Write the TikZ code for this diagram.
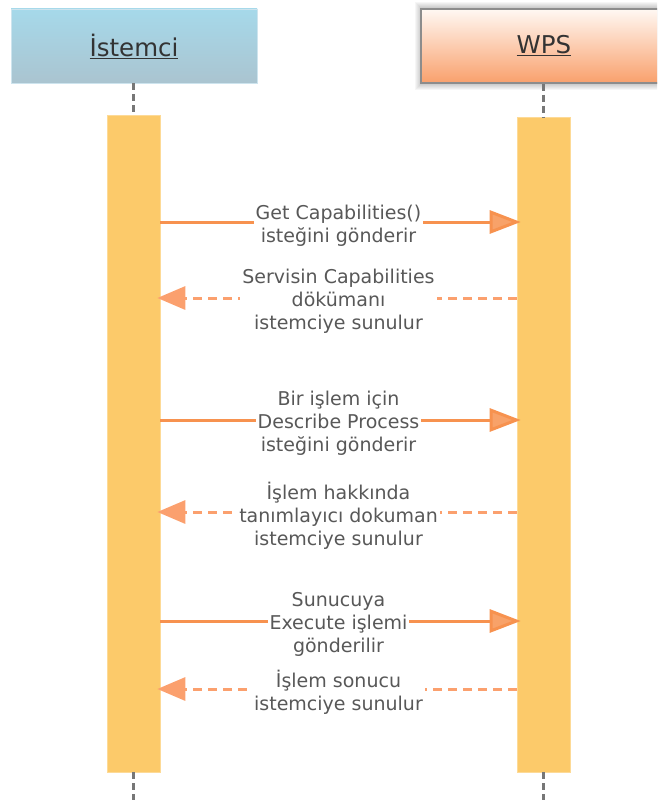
\documentclass[tikz,border=0pt]{standalone}
\usepackage{fontspec}
\setmainfont{DejaVu Sans}
\usetikzlibrary{arrows.meta}
\definecolor{barfill}{HTML}{FCCA6A}
\definecolor{callcol}{HTML}{F7924F}
\definecolor{replycol}{HTML}{FBA06E}
\definecolor{lifecol}{HTML}{777777}
\definecolor{txtcol}{HTML}{585858}
\begin{document}
\begin{tikzpicture}[x=1pt,y=-1pt,
  head/.style={rectangle, minimum width=246pt, minimum height=74pt, inner sep=0pt,
    font=\fontsize{24.5}{29}\selectfont, text=black!80},
  actbar/.style={rectangle, fill=barfill, draw=barfill!70!white, line width=0.6pt,
    minimum width=53pt, inner sep=0pt},
  life/.style={draw=lifecol, line width=3pt, dash pattern=on 7pt off 4pt},
  call/.style={draw=callcol, line width=3pt, -{Triangle[length=31pt,width=23pt,fill=callcol!85!white]}, shorten >=-4pt},
  reply/.style={draw=replycol, line width=3pt, dash pattern=on 9pt off 6pt,
    -{Triangle[length=28pt,width=23pt,fill=replycol]}, shorten >=-3pt},
  lbl/.style={fill=white, inner sep=2pt, align=center, text=txtcol, yshift=-3.5pt,
    font=\fontsize{19}{23}\selectfont}]
\useasboundingbox (0,0) rectangle (657,800);
\clip (0,0) rectangle (657,800);

% soft shadow behind the server header
\foreach \s in {1,...,7}
  \fill[black, opacity=0.035] (422-\s,9-\s) rectangle (667+\s,83+\s);

% participant headers
\node[head, top color={rgb,255:red,166;green,217;blue,234},
      bottom color={rgb,255:red,170;green,196;blue,208},
      draw={rgb,255:red,205;green,228;blue,238}, line width=0.8pt]
      (chead) at (134,46) {\underline{İstemci}};
\node[head, top color={rgb,255:red,255;green,248;blue,243},
      bottom color={rgb,255:red,249;green,160;blue,108},
      draw=black!45, line width=1.2pt]
      (whead) at (544,46) {\underline{WPS}};

% activation bars
\node[actbar, minimum height=657pt] (cbar) at (133.5,443.5) {};
\node[actbar, minimum height=655pt] (wbar) at (543.5,444.5) {};

% lifelines
\coordinate (cend) at (133.5,800);
\coordinate (wend) at (543.5,800);
\draw[life] (chead.south -| cbar.north) -- (cbar.north);
\draw[life] (whead.south -| wbar.north) -- (wbar.north);
\draw[life] (cbar.south) -- (cend);
\draw[life] (wbar.south) -- (wend);

% message rows
\coordinate (m1) at (0,222);
\coordinate (m2) at (0,298);
\coordinate (m3) at (0,420);
\coordinate (m4) at (0,512);
\coordinate (m5) at (0,621);
\coordinate (m6) at (0,689);

\draw[call] (cbar.east |- m1) -- node[lbl] {Get Capabilities()\\isteğini gönderir} (wbar.west |- m1);
\draw[reply] (wbar.west |- m2) -- node[lbl] {Servisin Capabilities\\dökümanı\\istemciye sunulur} (cbar.east |- m2);
\draw[call] (cbar.east |- m3) -- node[lbl] {Bir işlem için\\Describe Process\\isteğini gönderir} (wbar.west |- m3);
\draw[reply] (wbar.west |- m4) -- node[lbl] {İşlem hakkında\\tanımlayıcı dokuman\\istemciye sunulur} (cbar.east |- m4);
\draw[call] (cbar.east |- m5) -- node[lbl] {Sunucuya\\Execute işlemi\\gönderilir} (wbar.west |- m5);
\draw[reply] (wbar.west |- m6) -- node[lbl] {İşlem sonucu\\istemciye sunulur} (cbar.east |- m6);
\end{tikzpicture}
\end{document}
